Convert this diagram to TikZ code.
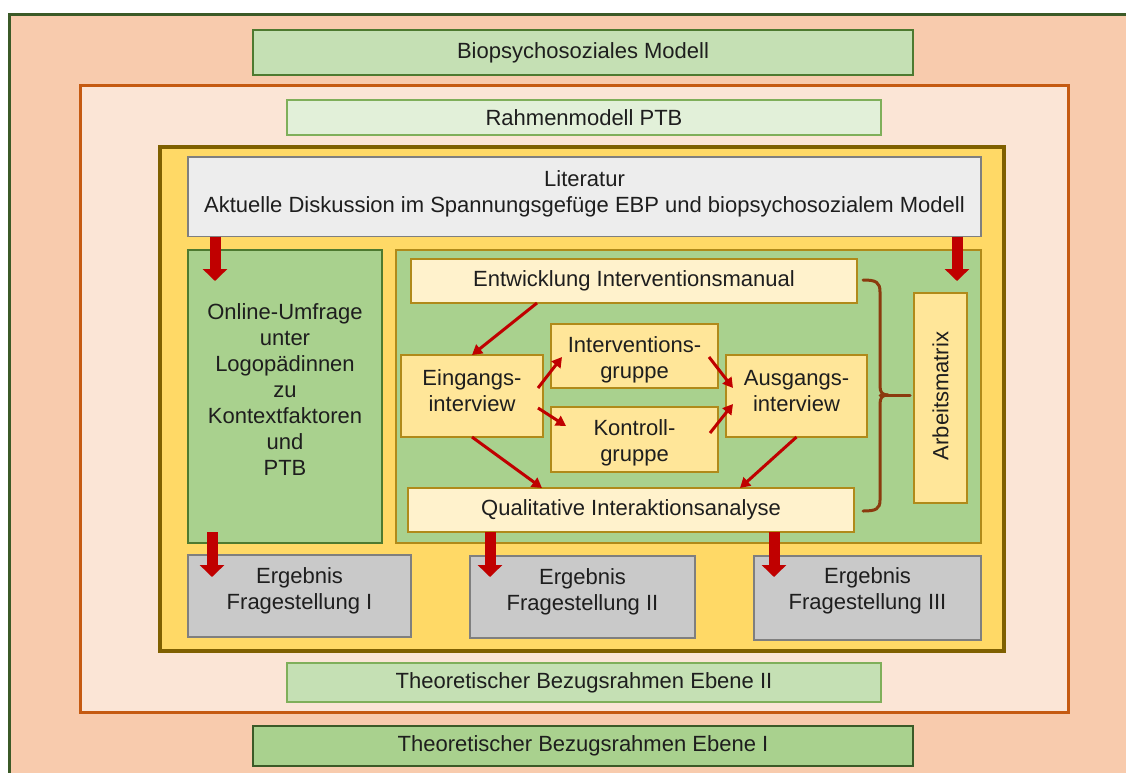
\documentclass[tikz,border=0pt]{standalone}
\usepackage{fontspec}
\setmainfont{Liberation Sans}
\usetikzlibrary{arrows.meta,calc}

\definecolor{outerfill}{HTML}{F8CBAD}
\definecolor{outerline}{HTML}{3B5A27}
\definecolor{midfill}{HTML}{FBE5D6}
\definecolor{midline}{HTML}{C55A11}
\definecolor{innerfill}{HTML}{FFD966}
\definecolor{innerline}{HTML}{7F6000}
\definecolor{litfill}{HTML}{EDEDED}
\definecolor{grayline}{HTML}{7F7F7F}
\definecolor{greenfill}{HTML}{A9D18E}
\definecolor{greenline}{HTML}{4E7A30}
\definecolor{lightgreen}{HTML}{C5E0B4}
\definecolor{palegreen}{HTML}{E2F0D9}
\definecolor{palegreenline}{HTML}{7FAF5A}
\definecolor{cream}{HTML}{FFF2CC}
\definecolor{gold}{HTML}{FFE699}
\definecolor{goldline}{HTML}{B08A1A}
\definecolor{resultfill}{HTML}{C9C9C9}
\definecolor{arrowred}{HTML}{C00000}
\definecolor{bracebrown}{HTML}{8B3A0E}
\definecolor{textdark}{HTML}{1E1E1E}

% box given by its corners (x1,y1) and (x2,y2), y measured downwards
\newcommand\mkbox[7]{\node[#6, anchor=north west,
  minimum width={(#4)-(#2)}, minimum height={(#5)-(#3)}] (#1) at (#2,#3) {#7};}

\begin{document}
\begin{tikzpicture}[x=1pt,y=-1pt,
  every node/.style={font=\fontsize{22}{26}\selectfont, text=textdark,
    align=center, inner sep=0pt, outer sep=0pt},
  levelone/.style={fill=lightgreen, draw=greenline, line width=1.5pt},
  leveltwo/.style={fill=palegreen, draw=palegreenline, line width=1.5pt},
  basebox/.style={fill=greenfill, draw=outerline, line width=1.5pt},
  litbox/.style={fill=litfill, draw=grayline, line width=1.5pt},
  survey/.style={fill=greenfill, draw=greenline, line width=1.5pt},
  study/.style={fill=greenfill, draw=goldline, line width=1.5pt},
  creambox/.style={fill=cream, draw=goldline, line width=1.5pt},
  goldbox/.style={fill=gold, draw=goldline, line width=1.5pt},
  resultbox/.style={fill=resultfill, draw=grayline, line width=1.5pt},
  bigarrow/.style={draw=arrowred, line width=11pt,
    -{Triangle[width=24pt,length=12pt]}},
  smallarrow/.style={draw=arrowred, line width=3pt,
    -{Triangle[width=11pt,length=10pt]}},
  bracepath/.style={draw=bracebrown, line width=3pt, line cap=round}]

\useasboundingbox (0,0) rectangle (1126,772);
\clip (0,0) rectangle (1126,772);

% outermost frame (level I), running past the right and bottom edges
\fill[outerfill] (9.5,14.5) rectangle (1140,790);
\draw[outerline, line width=3pt] (1140,14.5) -- (9.5,14.5) -- (9.5,790);

% level II frame
\draw[midline, fill=midfill, line width=3pt] (80.5,85.5) rectangle (1068.5,712.5);

% study frame
\draw[innerline, fill=innerfill, line width=4pt] (160,146.5) rectangle (1004,651);

% frame labels
\mkbox{bio}{253}{30}{913}{75}{levelone}{Biopsychosoziales Modell}
\mkbox{ptb}{287}{100}{881}{135}{leveltwo}{Rahmenmodell PTB}
\mkbox{ebeneII}{287}{663}{881}{702}{leveltwo, fill=lightgreen}{Theoretischer Bezugsrahmen Ebene II}
\mkbox{ebeneI}{253}{726}{913}{766}{basebox}{Theoretischer Bezugsrahmen Ebene I}

% literature
\mkbox{lit}{188}{157}{981}{236.5}{litbox}{}
\node (littext) at ([yshift=3pt]lit.center) {Literatur\\Aktuelle Diskussion im Spannungsgefüge EBP und biopsychosozialem Modell};

% survey and study blocks
\mkbox{umfrage}{188}{250}{382}{543}{survey}{}
\node (umfragetext) at ([yshift=7pt]umfrage.center)
  {Online-Umfrage\\unter\\Logopädinnen\\zu\\Kontextfaktoren\\und\\PTB};
\mkbox{studie}{396}{250}{981}{543}{study}{}

\mkbox{entw}{411}{259}{857}{303}{creambox}{Entwicklung Interventionsmanual}
\mkbox{eing}{401}{355}{543}{437}{goldbox}{}
\mkbox{intv}{551}{324}{718}{388}{goldbox}{}
\mkbox{kont}{551}{407}{718}{472}{goldbox}{}
\mkbox{ausg}{726}{355}{867}{437}{goldbox}{}
\node (eingtext) at ([yshift=5pt]eing.center) {Eingangs-\\interview};
\node (intvtext) at ([yshift=-4pt]intv.center) {Interventions-\\gruppe};
\node (konttext) at ([yshift=-3pt]kont.center) {Kontroll-\\gruppe};
\node (ausgtext) at ([yshift=5pt]ausg.center) {Ausgangs-\\interview};
\mkbox{qual}{408}{488}{854}{532}{creambox}{Qualitative Interaktionsanalyse}

\mkbox{amx}{914}{293}{967}{503}{goldbox}{}
\node[rotate=90] (amxtext) at ([yshift=2pt]amx.center) {Arbeitsmatrix};

% results
\mkbox{erg1}{188}{555}{411}{637}{resultbox}{}
\mkbox{erg2}{470}{556}{695}{638}{resultbox}{}
\mkbox{erg3}{754}{556}{981}{640}{resultbox}{}
\node (erg1text) at ([yshift=5pt]erg1.center) {Ergebnis\\Fragestellung I};
\node (erg2text) at ([yshift=5pt]erg2.center) {Ergebnis\\Fragestellung II};
\node (erg3text) at ([yshift=7pt]erg3.center) {Ergebnis\\Fragestellung III};

% brace collecting the study steps into the work matrix
\coordinate (bracetip) at ([xshift=-4pt]amx.west |- 0,395);
\draw[bracepath] (863,280) .. controls (876,280) and (880,282) .. (880,292)
  -- (880,386) .. controls (880,392) and (882,395) .. (888,395);
\draw[bracepath] (888,395) .. controls (882,395) and (880,398) .. (880,404)
  -- (880,500) .. controls (880,509) and (876,511) .. (863,511);
\draw[bracepath] (880,395) -- (bracetip);

% flow inside the study
\draw[smallarrow] ([xshift=-97pt]entw.south) -- (eing.north);
\draw[smallarrow] ([shift={(-5,-8)}]eing.east) -- ([shift={(11,1)}]intv.west);
\draw[smallarrow] ([shift={(-5,12)}]eing.east) -- ([shift={(15,-13.5)}]kont.west);
\draw[smallarrow] ([shift={(-9,1)}]intv.east) -- ([shift={(7,-8)}]ausg.west);
\draw[smallarrow] ([shift={(-8,-6.5)}]kont.east) -- ([shift={(7,8)}]ausg.west);
\draw[smallarrow] (eing.south) -- ([xshift=-89pt]qual.north);
\draw[smallarrow] (ausg.south) -- ([xshift=109pt]qual.north);

% block arrows between the levels of the study
\coordinate (inleft) at (215,281);
\coordinate (inright) at (957,281);
\coordinate (out1) at (212,577);
\coordinate (out2) at (490,577);
\coordinate (out3) at (774,577);
\draw[bigarrow] (lit.south -| inleft) -- (inleft);
\draw[bigarrow] (lit.south -| inright) -- (inright);
\draw[bigarrow] ([yshift=11pt]umfrage.south -| out1) -- (out1);
\draw[bigarrow] (qual.south -| out2) -- (out2);
\draw[bigarrow] (qual.south -| out3) -- (out3);
\end{tikzpicture}
\end{document}
